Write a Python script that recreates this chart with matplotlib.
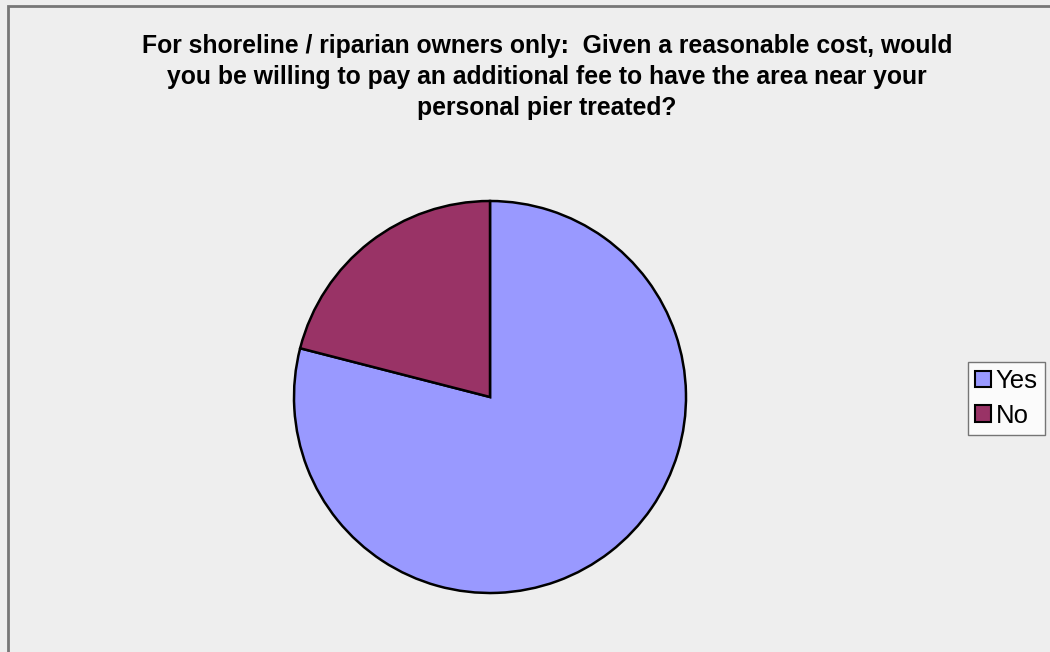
import matplotlib.pyplot as plt
from matplotlib.patches import Rectangle

labels = ['Yes', 'No']
shares = [79, 21]
colors = ['#9999FF', '#993366']
title = ("For shoreline / riparian owners only:  Given a reasonable cost, would\n"
         "you be willing to pay an additional fee to have the area near your\n"
         "personal pier treated?")

plt.rcParams['font.family'] = ['Liberation Sans', 'DejaVu Sans']

W, H = 1050, 652
fig = plt.figure(figsize=(W / 100, H / 100), dpi=100)
fig.patch.set_facecolor('#EEEEEE')

# outer chart border (only left and top visible)
fig.add_artist(Rectangle((7.5 / W, -0.1), 1.2, (H - 5.5) / H + 0.1,
                         transform=fig.transFigure, fill=False,
                         edgecolor='#777777', linewidth=2))

cx, cy, r = 490, H - 397, 196
pad = 1.02
ax = fig.add_axes([(cx - r * pad) / W, (cy - r * pad) / H,
                   2 * r * pad / W, 2 * r * pad / H])
wedges, _ = ax.pie(shares, colors=colors, startangle=90, counterclock=False,
                   wedgeprops=dict(edgecolor='black', linewidth=1.8))
ax.set_xlim(-pad, pad)
ax.set_ylim(-pad, pad)
ax.set_aspect('equal')
ax.axis('off')

fig.text(547 / W, 1 - 77 / H, title, ha='center', va='center',
         fontsize=17.8, fontweight='bold', linespacing=1.36)

leg = fig.legend(wedges, labels, loc='center', bbox_to_anchor=(1006.5 / W, 1 - 398.5 / H),
                 fontsize=18.5, frameon=True, fancybox=False,
                 handlelength=0.6, handleheight=0.6, handletextpad=0.2,
                 borderpad=0.3, labelspacing=0.4, borderaxespad=0)
leg.get_frame().set_edgecolor('#555555')
leg.get_frame().set_facecolor('white')
leg.get_frame().set_linewidth(1)
for h in leg.legend_handles:
    h.set_edgecolor('black')
    h.set_linewidth(1.5)

fig.savefig('out.png', dpi=100, facecolor=fig.get_facecolor())
